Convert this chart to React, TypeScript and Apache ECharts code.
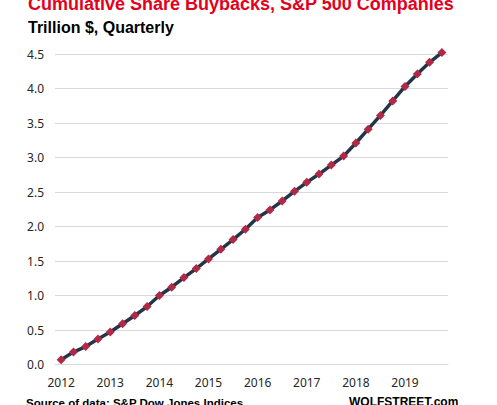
import React, { useEffect, useRef } from "react";
import * as echarts from "echarts";

const years = ["2012", "2013", "2014", "2015", "2016", "2017", "2018", "2019"];
const quarters = ["Q1", "Q2", "Q3", "Q4"];
const categories: string[] = years.flatMap((y) => quarters.map((q) => `${y} ${q}`));
const buybacks = [
  0.07, 0.18, 0.26, 0.37, 0.47, 0.59, 0.71, 0.84,
  1.0, 1.12, 1.26, 1.39, 1.53, 1.67, 1.81, 1.96,
  2.13, 2.24, 2.37, 2.51, 2.64, 2.76, 2.89, 3.02,
  3.21, 3.41, 3.61, 3.82, 4.03, 4.21, 4.38, 4.52,
];
const titleText = "Cumulative Share Buybacks, S&P 500 Companies";
const subtitleText = "Trillion $, Quarterly";
const sourceText = "Source of data: S&P Dow Jones Indices";
const brandText = "WOLFSTREET.com";

export default function App() {
  const ref = useRef<HTMLDivElement>(null);
  useEffect(() => {
    if (!ref.current) return;
    const chart = echarts.init(ref.current, null, { renderer: "svg" });
    chart.setOption({
      animation: false,
      backgroundColor: "#ffffff",
      grid: { left: 55, right: 49, top: 54, bottom: 40.5, containLabel: false },
      xAxis: {
        type: "category",
        data: categories,
        boundaryGap: true,
        axisLine: { show: true, lineStyle: { color: "#d9d9d9", width: 1 } },
        axisTick: { show: false },
        axisLabel: {
          interval: 3,
          margin: 12,
          color: "#262626",
          fontFamily: "Noto Sans",
          fontSize: 12,
          formatter: (v: string) => v.split(" ")[0],
        },
        splitLine: { show: false },
      },
      yAxis: {
        type: "value",
        min: 0,
        max: 4.5,
        interval: 0.5,
        axisLine: { show: false },
        axisTick: { show: false },
        axisLabel: {
          margin: 11,
          color: "#262626",
          fontFamily: "Noto Sans",
          fontSize: 12,
          formatter: (v: number) => v.toFixed(1),
        },
        splitLine: { show: true, lineStyle: { color: "#d9d9d9", width: 1 } },
      },
      series: [
        {
          type: "line",
          data: buybacks,
          clip: false,
          symbol: "diamond",
          symbolSize: 9,
          showAllSymbol: true,
          itemStyle: { color: "#b02a48" },
          lineStyle: { color: "#253547", width: 3.5 },
          z: 3,
        },
      ],
      graphic: [
        {
          type: "text",
          left: 28,
          top: -5,
          style: {
            text: titleText,
            fill: "#e3001b",
            font: "bold 18px 'Liberation Sans'",
          },
        },
        {
          type: "text",
          left: 28,
          top: 19.5,
          style: {
            text: subtitleText,
            fill: "#000000",
            font: "bold 16px 'Liberation Sans'",
          },
        },
        {
          type: "text",
          left: 26,
          top: 396.5,
          style: {
            text: sourceText,
            fill: "#000000",
            font: "bold 11.5px 'Liberation Sans'",
          },
        },
        {
          type: "text",
          left: 349,
          top: 396,
          style: {
            text: brandText,
            fill: "#000000",
            font: "bold 12px 'Liberation Sans'",
          },
        },
      ],
    });
    return () => chart.dispose();
  }, []);
  return (
    <div
      ref={ref}
      style={{ position: "absolute", left: 0, top: 0, width: 497, height: 405 }}
    />
  );
}
